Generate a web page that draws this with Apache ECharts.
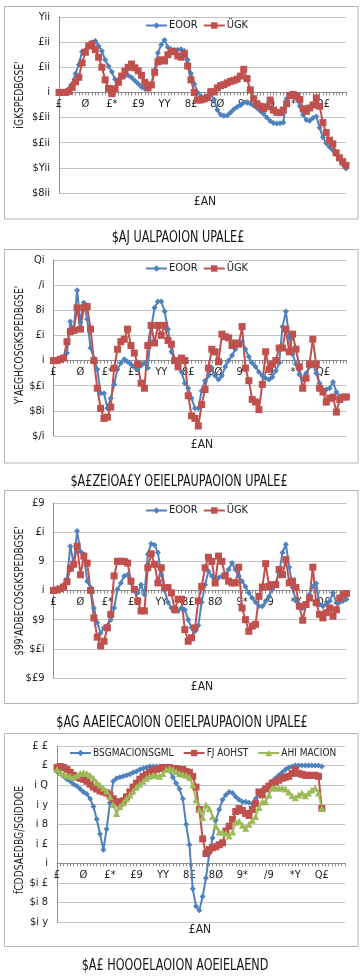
<!DOCTYPE html>
<html><head><meta charset="utf-8">
<script src="https://cdn.jsdelivr.net/npm/echarts@6/dist/echarts.min.js"></script>
<style>html,body{margin:0;padding:0;background:#fff;}#c{width:361px;height:979px;}</style>
</head><body><div id="c"></div>
<script>
const categories = [1,2,3,4,5,6,7,8,9,10,11,12,13,14,15,16,17,18,19,20,21,22,23,24,25,26,27,28,29,30,31,32,33,34,35,36,37,38,39,40,41,42,43,44,45,46,47,48,49,50,51,52,53,54,55,56,57,58,59,60,61,62,63,64,65,66,67,68,69,70,71,72,73,74,75,76,77,78,79,80,81,82,83,84,85,86,87,88];
const xTickLabels = ['£','Ø','£*','£9','YY','8£','8Ø','9*','/9','*Y','Q£'];

const y1Labels = ['Yii','£ii','£ii','i','$£ii','$£ii','$Yii','$8ii'];
const y2Labels = ['Qi','/i','8i','£i','i','$£i','$8i','$/i'];
const y3Labels = ['£9','£i','9','i','$9','$£i','$£9'];
const y4Labels = ['£ £','£','i Q','i y','i 8','i £','i','$i £','$i 8','$i y'];

const nameA = 'EOOR', nameB = 'ÜGK';
const name4A = 'BSGMACIONSGML', name4B = 'FJ AOHST', name4C = 'AHI MACION';

// Chart 1
const c1A = [0,0,1,15,35,75,110,163,168,185,200,205,185,165,130,104,82,52,50,62,66,67,59,46,35,22,15,14,35,90,157,190,209,180,172,170,170,172,165,130,75,35,0,-15,-25,-17,-8,-28,-70,-88,-93,-92,-80,-67,-58,-50,-40,-41,-44,-52,-62,-74,-85,-100,-114,-122,-124,-123,-120,-25,-13,-10,-24,-55,-90,-110,-113,-102,-96,-140,-178,-202,-217,-230,-245,-265,-287,-303];
const c1B = [0,0,0,4,20,42,60,117,160,185,192,170,140,100,50,16,-5,15,40,65,85,100,113,98,86,68,40,18,30,80,122,130,125,150,163,162,145,140,155,105,50,0,-30,-30,-26,-20,3,2,18,27,31,38,44,48,53,65,92,55,10,-25,-45,-55,-65,-57,-30,-70,-79,-80,-70,-45,-13,-8,-15,-28,-65,-75,-62,-50,-22,-55,-120,-160,-190,-205,-240,-260,-275,-290];
// Chart 2
const c2A = [0,0,0,2,6,31,23,56,30,46,33,10,2,-7,-26,-26,-38,-30,-19,-7,-2,1,-1,-3,-5,-7,-4,-2,-6,26,42,47,47,39,25,7,0,-5,-9,-18,-22,-30,-38,-38,-24,-16,-12,-6,-12,-15,-12,-5,0,4,9,13,15,9,3,-2,-5,-9,-12,-14,-15,-13,-8,-2,27,39,18,5,-3,-11,-15,-10,-5,-3,-10,-18,-23,-23,-22,-17,-25,-29,-29,-29];
const c2B = [0,0,1,2,15,23,24,42,25,42,43,25,0,-22,-38,-46,-45,-37,-6,9,15,17,25,12,6,-3,-18,-22,12,28,14,28,20,28,16,13,0,-5,2,0,-28,-44,-46,-52,-35,-23,-6,9,7,-1,21,19,18,12,14,13,27,-6,-16,-31,-33,-39,-19,7,-7,-3,0,10,10,25,7,21,9,-5,-22,-14,-3,17,-3,-22,-25,-33,-30,-29,-41,-31,-29,-29];
// Chart 3
const c3A = [0,0.2,0.3,1,2,7.6,4.5,10.2,6.7,6.2,1.6,0.5,-3,-5.5,-7.3,-6.4,-6,-5,-3,0.2,1.3,2.5,2.7,1.3,0,-0.4,1,-0.7,6.2,8,7.8,6.5,2.7,0,-2,-3,-3.5,-3.5,-3,-3.3,-5,-6.4,-7,-6,-2,1,3.3,2.5,1.3,2.2,2.5,2.7,3.6,4.7,3.6,2.5,1.6,0.7,-0.4,-1.3,-2,-2.7,-2.7,-1.8,-1,0.2,1.3,3,6.5,7.9,4,0.5,-1.8,-2.5,-3,-2.4,-0.7,0.7,1.2,-2.4,-2.7,-2.3,-1.8,-0.4,-2.1,-2,-1.8,-1.5];
const c3B = [0,0.1,0.3,0.6,1.5,3.8,4.5,7.6,2.7,5.9,4.7,0,-4.7,-8,-9.5,-8.7,-6.4,-4.1,2.5,5,5,5,4.7,1.6,0.2,-1.8,-3.5,-3.5,3.9,6.3,4.5,1.3,3.9,0.5,0.5,-0.4,-3.3,-1.5,-1.5,-6.7,-8.7,-8.1,-6.4,-1.8,0.7,3.9,5.7,5,1.3,5.9,5,2.5,1.6,1.3,1.3,4,-3,-5,-7,-6.1,-5.8,-1,0.6,4.6,0.7,1,1,3.6,2.7,5.3,1.3,1.6,0.5,-2.7,-5.1,-2.4,-1.3,4,-2.1,-4.1,-4.7,-3.8,-3,-4.4,-3.3,-1.3,-0.7,-0.5];
// Chart 4
const c4A = [0.94,0.92,0.89,0.86,0.84,0.81,0.79,0.76,0.73,0.71,0.66,0.58,0.45,0.30,0.14,0.35,0.62,0.84,0.87,0.88,0.89,0.90,0.91,0.93,0.94,0.96,0.97,0.98,0.99,0.99,0.99,0.99,0.99,0.99,0.95,0.88,0.82,0.76,0.66,0.40,0.19,-0.26,-0.44,-0.48,-0.34,-0.15,0.10,0.26,0.44,0.55,0.65,0.70,0.73,0.72,0.68,0.65,0.63,0.63,0.62,0.61,0.66,0.72,0.75,0.77,0.80,0.84,0.87,0.90,0.93,0.96,0.98,0.99,1.0,1.0,1.0,1.0,1.0,1.0,1.0,1.0,0.99];
const c4B = [0.98,0.99,0.98,0.96,0.93,0.90,0.88,0.87,0.86,0.84,0.81,0.78,0.76,0.74,0.73,0.72,0.70,0.66,0.63,0.61,0.64,0.68,0.73,0.78,0.82,0.86,0.89,0.91,0.93,0.95,0.96,0.97,0.98,0.98,0.98,0.97,0.97,0.96,0.96,0.94,0.93,0.89,0.78,0.55,0.25,0.10,0.14,0.16,0.17,0.19,0.21,0.33,0.38,0.45,0.53,0.56,0.54,0.51,0.49,0.55,0.61,0.73,0.70,0.76,0.79,0.82,0.83,0.85,0.87,0.88,0.89,0.92,0.96,0.92,0.91,0.90,0.90,0.90,0.90,0.89,0.56];
const c4C = [0.96,0.93,0.91,0.90,0.89,0.88,0.90,0.92,0.93,0.92,0.90,0.87,0.83,0.80,0.77,0.74,0.68,0.60,0.51,0.58,0.62,0.66,0.70,0.74,0.78,0.81,0.84,0.87,0.89,0.90,0.90,0.89,0.92,0.96,0.97,0.96,0.94,0.92,0.91,0.90,0.88,0.80,0.65,0.55,0.47,0.60,0.56,0.48,0.38,0.32,0.32,0.31,0.28,0.32,0.42,0.43,0.39,0.36,0.40,0.44,0.48,0.57,0.63,0.63,0.70,0.77,0.77,0.77,0.77,0.76,0.73,0.69,0.67,0.70,0.72,0.69,0.72,0.75,0.77,0.72,0.56];

const titles = ['$AJ UALPAOION UPALE£','$A£ZEIOA£Y OEIELPAUPAOION UPALE£','$AG AAEIECAOION OEIELPAUPAOION UPALE£','$A£ HOOOELAOION AOEIELAEND'];
const yNames = ["iGKSPEDBGSE'","Y'AEGHCOSGKSPEDBGSE'","$99'ADBECOSGKSPEDBGSE'","fCDDSAEDBG/SGIDDOE"];
const xName = '£AN';

const FONT = "'Liberation Sans Narrow','DejaVu Sans Condensed','Liberation Sans',sans-serif";
const BLUE = '#4F81BD', RED = '#C0504D', GREEN = '#9BBB59';

const gridDefs = [
  {left:59, top:17, width:287, height:176},
  {left:53.5, top:260, width:293, height:176},
  {left:53.5, top:503, width:293, height:175},
  {left:57, top:746, width:288, height:176}
];
const yDefs = [
  {min:-400, max:300, interval:100, labels:y1Labels},
  {min:-60, max:80, interval:20, labels:y2Labels},
  {min:-15, max:15, interval:5, labels:y3Labels},
  {min:-0.6, max:1.2, interval:0.2, labels:y4Labels}
];

const xAxes = gridDefs.map((g,k)=>({
  type:'category', gridIndex:k, data:categories, boundaryGap:false, position:'bottom',
  offset: -g.height * (0 - yDefs[k].min) / (yDefs[k].max - yDefs[k].min),
  axisLine:{onZero:false, lineStyle:{color:'#8c8c8c', width:1}},
  axisTick:{show:true, interval:0, length:3, lineStyle:{color:'#8c8c8c'}},
  axisLabel:{interval:7, margin:6, fontSize:11, color:'#222', fontFamily:FONT,
    formatter:(v,i)=>xTickLabels[Math.round(i/8)] || ''},
  splitLine:{show:false}
}));
const yAxes = yDefs.map((d,k)=>({
  type:'value', gridIndex:k, min:d.min, max:d.max, interval:d.interval,
  axisLine:{show:true, onZero:false, lineStyle:{color:'#8c8c8c'}},
  axisTick:{show:false},
  splitLine:{show:true, lineStyle:{color:'#c4c4c4', width:1}},
  axisLabel:{margin:9, fontSize:11, color:'#222', fontFamily:FONT,
    formatter:(v)=>d.labels[Math.round((d.max - v)/d.interval)] || ''}
}));

function mk(name, data, k, color, symbol, size){
  return {type:'line', name, data, xAxisIndex:k, yAxisIndex:k,
    symbol, symbolSize:size, showSymbol:true, showAllSymbol:true,
    lineStyle:{color, width:2}, itemStyle:{color}, emphasis:{disabled:true}};
}
const series = [];
[[c1A,c1B],[c2A,c2B],[c3A,c3B]].forEach((p,k)=>{
  series.push(mk(nameA, p[0], k, BLUE, 'diamond', 6));
  series.push(mk(nameB, p[1], k, RED, 'rect', 7));
});
series.push(mk(name4A, c4A, 3, BLUE, 'diamond', 6));
series.push(mk(name4B, c4B, 3, RED, 'rect', 7));
series.push(mk(name4C, c4C, 3, GREEN, 'triangle', 7));

const legTop = [15, 258, 500, 743];
const legends = [0,1,2].map(k=>({
  data:[nameA,nameB], left:140, top:legTop[k], itemWidth:21, itemHeight:8, itemGap:5,
  textStyle:{fontSize:11, color:'#222', fontFamily:FONT, padding:[0,0,0,-3]}, selectedMode:false
}));
legends.push({data:[name4A,name4B,name4C], left:64, top:legTop[3], itemWidth:21, itemHeight:8, itemGap:9,
  width:300, textStyle:{fontSize:10, color:'#222', fontFamily:FONT, padding:[0,0,0,-3]}, selectedMode:false});

const boxes = [[6.5,212.5],[249.5,213.5],[490.5,213],[733.5,213]];
const yNamePos = [95, 345, 591, 840];
const xNamePos = [[205,202],[202,445],[202,687],[200,930]];
const titlePos = [[178,238],[179,482],[182,723],[175,966]];
const graphic = [];
boxes.forEach(b=>graphic.push({type:'rect', shape:{x:4.5, y:b[0], width:353.5, height:b[1]}, style:{fill:'none', stroke:'#b3b3b3', lineWidth:1}, silent:true}));
yNames.forEach((t,k)=>graphic.push({type:'text', x:20, y:yNamePos[k], rotation:Math.PI/2, scaleX:0.85,
  style:{text:t, font:'12px '+FONT, fill:'#222', textAlign:'center', textVerticalAlign:'middle'}, silent:true}));
xNamePos.forEach(p=>graphic.push({type:'text', x:p[0], y:p[1],
  style:{text:xName, font:'12px '+FONT, fill:'#222', textAlign:'center', textVerticalAlign:'middle'}, silent:true}));
titles.forEach((t,k)=>graphic.push({type:'text', x:titlePos[k][0], y:titlePos[k][1], scaleX:0.78,
  style:{text:t, font:'16px '+FONT, fill:'#111', textAlign:'center', textVerticalAlign:'middle'}, silent:true}));

const chart = echarts.init(document.getElementById('c'), null, {renderer:'canvas'});
chart.setOption({
  animation:false,
  backgroundColor:'#fff',
  textStyle:{fontFamily:FONT},
  grid:gridDefs.map(g=>Object.assign({containLabel:false}, g)),
  xAxis:xAxes, yAxis:yAxes, legend:legends, series, graphic
});
</script></body></html>
